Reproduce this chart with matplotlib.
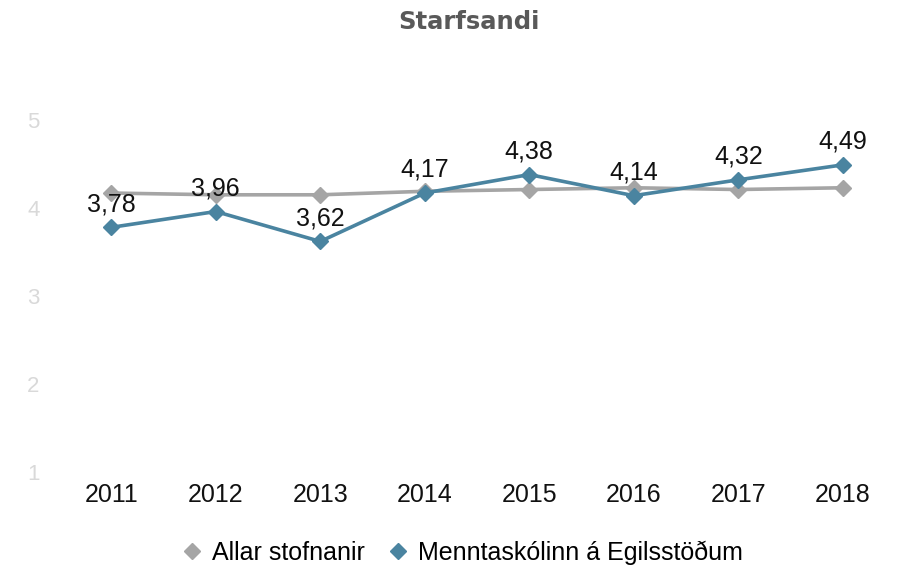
import matplotlib.pyplot as plt

plt.rcParams['font.family'] = ['Liberation Sans', 'DejaVu Sans']

years = ['2011', '2012', '2013', '2014', '2015', '2016', '2017', '2018']
allar = [4.17, 4.15, 4.15, 4.19, 4.21, 4.23, 4.21, 4.23]
menntaskolinn = [3.78, 3.96, 3.62, 4.17, 4.38, 4.14, 4.32, 4.49]

fig = plt.figure(figsize=(9.02, 5.70), dpi=100)
ax = fig.add_axes([59 / 902, 1 - 472 / 570, 836 / 902, 352 / 570])

x = list(range(len(years)))
ax.plot(x, allar, color='#a5a5a5', lw=2.6, marker='D', ms=8,
        label='Allar stofnanir', zorder=2)
ax.plot(x, menntaskolinn, color='#4a84a0', lw=2.6, marker='D', ms=8,
        label='Menntaskólinn á Egilsstöðum', zorder=3)

for xi, v in zip(x, menntaskolinn):
    ax.annotate(f"{v:.2f}".replace('.', ','), (xi, v), xytext=(0, 8),
                textcoords='offset points', ha='center', va='bottom',
                fontsize=18, color='#111111', zorder=4)

ax.set_xlim(-0.5, len(years) - 0.5)
ax.set_ylim(1, 5)
ax.set_xticks(x)
ax.set_xticklabels(years, fontsize=18, color='#111111')
ax.set_yticks([1, 2, 3, 4, 5])
ax.tick_params(axis='y', labelsize=16, labelcolor='#d9d9d9', length=0, pad=14)
ax.tick_params(axis='x', length=0, pad=8)
for s in ax.spines.values():
    s.set_visible(False)

fig.text(0.52, 0.962, 'Starfsandi', ha='center', va='center', fontsize=17.5,
         fontweight='bold', color='#595959', family='DejaVu Sans')

fig.legend(loc='center', bbox_to_anchor=(0.514, 0.03), ncol=2, frameon=False,
           fontsize=18, handlelength=0.6, handletextpad=0.5, columnspacing=1.0,
           markerscale=1.0)
for h in fig.legends[0].get_lines():
    h.set_linestyle('none')

fig.savefig('out.png', dpi=100)
